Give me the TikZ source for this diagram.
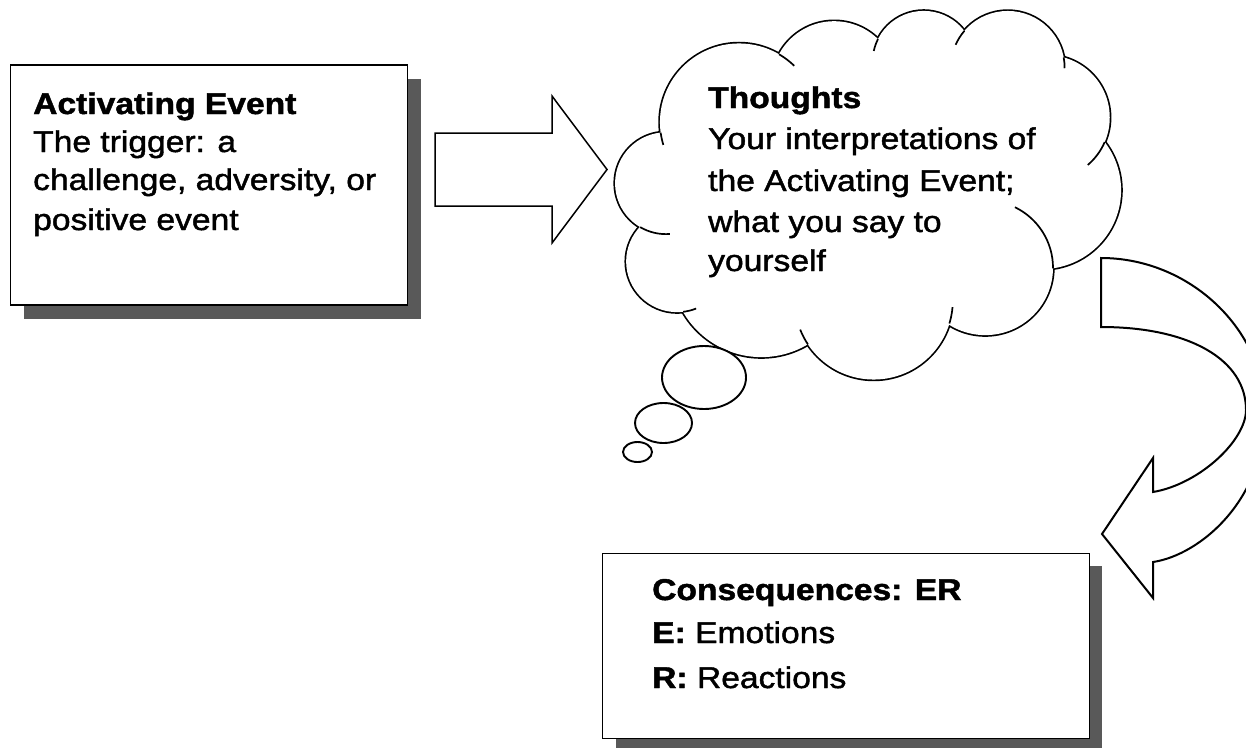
\documentclass[tikz,border=0pt]{standalone}
\usepackage{fontspec}
\setmainfont{Liberation Sans}[FakeStretch=1.12, FakeBold=1.5]
\usetikzlibrary{shadows}
\definecolor{shadowgray}{RGB}{89,89,89}
\newcommand\cloudstub[6]{%
  \pgfmathsetmacro\csA{atan2((#3)*sin(#5),(#4)*cos(#5))}%
  \pgfmathsetmacro\csB{atan2((#3)*sin((#5)+(#6)),(#4)*cos((#5)+(#6)))}%
  \pgfmathsetmacro\csB{\csB+360*round((\csA+(#6)-\csB)/360)}%
  \draw[cloudline] (#1,#2) ++(\csA:#3 and #4) arc[start angle=\csA, end angle=\csB, x radius=#3, y radius=#4];%
}
\begin{document}
\begin{tikzpicture}[x=1pt,y=-1pt,
  txt/.style={anchor=base west, inner sep=0pt, font=\fontsize{30pt}{36pt}\selectfont},
  boxnode/.style={draw=black, fill=white, line width=1.4pt, inner sep=0pt},
  cloudline/.style={line width=1.7pt, draw=black},
  blockarrow/.style={draw=black, fill=white, line width=1.5pt, line join=miter},
  curvearrow/.style={draw=black, fill=white, line width=2pt, line join=miter},
  bubble/.style={draw=black, fill=white, line width=1.9pt}
]
\useasboundingbox (0,0) rectangle (1246,747);
\fill[white] (0,0) rectangle (1246,747);
\clip (0,0) rectangle (1246,747);

% ---------- cloud ----------
\begin{scope}[shift={(615pt,-9.7pt)}, x=1.171pt, y=-0.8563pt]
  \def\bumps{105.91/131.31/67.53/91.90, 187.14/86.10/53.33/72.67, 263.62/60.85/43.65/59.45,
    335.37/67.42/48.57/65.95, 369.16/125.91/53.33/72.73, 364.43/210.72/67.75/92.20,
    316.18/301.36/57.85/78.67, 220.94/339.75/67.52/92.15, 125.00/300.30/77.20/105.43,
    53.11/294.03/43.60/59.18, 43.50/202.65/43.45/59.45}
  \foreach \cx/\cy/\rx/\ry in \bumps {\draw[line width=3.4pt] (\cx,\cy) ellipse [x radius=\rx, y radius=\ry];}
  \foreach \cx/\cy/\rx/\ry in \bumps {\fill[white] (\cx,\cy) ellipse [x radius=\rx, y radius=\ry];}
  \fill[white] (105.91,131.31) -- (187.14,86.10) -- (263.62,60.85) -- (335.37,67.42)
    -- (369.16,125.91) -- (364.43,210.72) -- (316.18,301.36) -- (220.94,339.75)
    -- (125.00,300.30) -- (53.11,294.03) -- (43.50,202.65) -- cycle;
  \cloudstub{43.50}{202.65}{43.45}{59.45}{86.742}{26.43}
  \cloudstub{53.11}{294.03}{43.60}{59.18}{73.61}{11.45}
  \cloudstub{220.94}{339.75}{67.52}{92.15}{137.62}{14.08}
  \cloudstub{220.94}{339.75}{67.52}{92.15}{6.453}{16.0}
  \cloudstub{316.18}{301.36}{57.85}{78.67}{-70.29}{70.92}
  \cloudstub{369.16}{125.91}{53.33}{72.73}{30.318}{27.75}
  \cloudstub{335.37}{67.42}{48.57}{65.95}{-13.744}{14.857}
  \cloudstub{335.37}{67.42}{48.57}{65.95}{-149.18}{18.196}
  \cloudstub{263.62}{60.85}{43.65}{59.45}{-163.49}{17.688}
  \cloudstub{105.91}{131.31}{67.53}{91.90}{-66.707}{12.319}
  \cloudstub{105.91}{131.31}{67.53}{91.90}{157.65}{11.858}
\end{scope}

% thought bubbles
\draw[bubble] (704,377.5) ellipse [x radius=42, y radius=31.5];
\draw[bubble] (663.5,423) ellipse [x radius=28.5, y radius=20];
\draw[bubble] (637.5,452) ellipse [x radius=14.5, y radius=10];

% cloud text
\node[txt] (th1) at (708,108) {\bfseries Thoughts};
\node[txt] (th2) at (708,149) {Your interpretations of};
\node[txt] (th3) at (708,191) {the Activating Event;};
\node[txt] (th4) at (708,232) {what you say to};
\node[txt] (th5) at (708,271) {yourself};

% block arrow
\draw[blockarrow] (435,133) -- (552,133) -- (552,96) -- (607,169.5) -- (552,243) -- (552,206) -- (435,206) -- cycle;

% activating event box
\node[boxnode, minimum width=397pt, minimum height=240pt,
  drop shadow={shadow xshift=14pt, shadow yshift=-14pt, fill=shadowgray, opacity=1}] (ae) at (208.7,185) {};
\node[txt] (ae1) at (33,114) {\bfseries Activating Event};
\node[txt] (ae2) at (33,152) {The trigger: a};
\node[txt] (ae3) at (33,190) {challenge, adversity, or};
\node[txt] (ae4) at (33,230) {positive event};

% curved arrow
\draw[curvearrow] (1101,258) .. controls (1190,258) and (1265,330) .. (1265,413)
  .. controls (1265,500) and (1200,555) .. (1153,562)
  -- (1153,598) -- (1102,534) -- (1153,458) -- (1153,492)
  .. controls (1200,484) and (1246,440) .. (1246,410)
  .. controls (1246,360) and (1190,327) .. (1101,327) -- cycle;

% consequences box
\node[boxnode, minimum width=486.6pt, minimum height=185pt,
  drop shadow={shadow xshift=13pt, shadow yshift=-13pt, fill=shadowgray, opacity=1}] (cq) at (846,645.8) {};
\node[txt] (cq1) at (652,600) {\bfseries Consequences: ER};
\node[txt] (cq2) at (652,643) {\textbf{E:} Emotions};
\node[txt] (cq3) at (652,688) {\textbf{R:} Reactions};
\end{tikzpicture}
\end{document}
